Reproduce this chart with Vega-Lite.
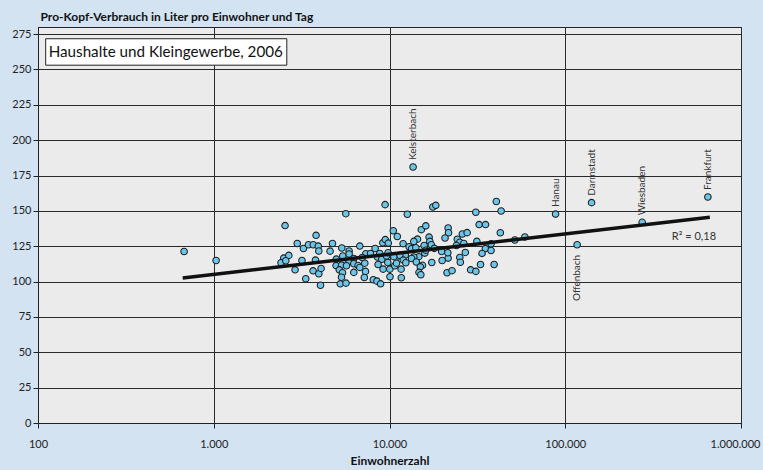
{
  "$schema": "https://vega.github.io/schema/vega-lite/v6.json",
  "width": 703,
  "height": 396,
  "autosize": {"type": "none"},
  "padding": {"left": 38, "top": 27, "right": 22, "bottom": 47},
  "background": "#d3e3f2",
  "config": {
    "font": "Lato",
    "view": {"fill": "#ebebeb", "stroke": "#222222", "strokeWidth": 1},
    "locale": {"number": {"decimal": ",", "thousands": ".", "grouping": [3], "currency": ["", " €"]}},
    "axis": {
      "gridColor": "#2a2a2a", "gridWidth": 1, "gridOpacity": 1,
      "domainColor": "#222222", "tickColor": "#222222", "tickSize": 5,
      "labelFont": "Lato", "labelFontSize": 11, "labelColor": "#222222",
      "titleFont": "Lato", "titleFontSize": 12, "titleFontWeight": "bold", "titleColor": "#111111",
      "labelOverlap": false
    }
  },
  "datasets": {
    "pts": [
      {"p":678,"v":121.3},{"p":1031,"v":114.9},{"p":2545,"v":139.6},{"p":5640,"v":148.0},{"p":9440,"v":154.4},
      {"p":13620,"v":181.0,"name":"Kelsterbach"},
      {"p":3821,"v":132.7},{"p":2987,"v":126.9},{"p":3239,"v":123.4},{"p":3459,"v":126.0},{"p":3684,"v":126.0},
      {"p":3934,"v":125.1},{"p":3960,"v":121.6},{"p":4738,"v":126.9},{"p":4591,"v":121.5},{"p":2502,"v":116.6},
      {"p":2673,"v":118.5},{"p":2415,"v":113.3},{"p":2569,"v":114.7},{"p":3177,"v":114.9},{"p":3791,"v":115.2},
      {"p":2902,"v":108.3},{"p":3674,"v":107.6},{"p":3960,"v":105.5},{"p":4081,"v":109.3},{"p":3338,"v":102.0},
      {"p":4049,"v":97.4},{"p":5352,"v":123.7},{"p":6776,"v":125.1},{"p":5890,"v":121.6},{"p":5423,"v":118.1},
      {"p":5890,"v":119.5},{"p":4979,"v":115.9},{"p":5444,"v":113.5},{"p":5890,"v":114.0},{"p":6263,"v":116.3},
      {"p":6263,"v":112.6},{"p":4966,"v":111.3},{"p":5332,"v":111.6},{"p":5692,"v":111.2},{"p":6627,"v":111.4},
      {"p":5180,"v":108.3},{"p":5402,"v":106.2},{"p":6263,"v":106.5},{"p":6776,"v":110.0},{"p":7235,"v":113.0},
      {"p":7331,"v":119.7},{"p":7797,"v":119.9},{"p":8280,"v":123.4},{"p":7302,"v":107.2},{"p":7189,"v":102.9},
      {"p":5332,"v":103.1},{"p":5248,"v":98.4},{"p":5655,"v":98.9},{"p":8087,"v":101.3},{"p":8489,"v":100.3},
      {"p":8899,"v":98.4},{"p":10065,"v":103.4},{"p":9159,"v":127.4},{"p":9465,"v":129.7},{"p":9845,"v":127.2},
      {"p":10510,"v":135.9},{"p":11075,"v":131.9},{"p":8544,"v":117.4},{"p":9040,"v":115.8},{"p":9614,"v":118.1},
      {"p":8611,"v":112.1},{"p":9195,"v":108.8},{"p":9779,"v":113.5},{"p":10039,"v":108.8},{"p":10720,"v":111.2},
      {"p":10960,"v":113.0},{"p":11190,"v":118.1},{"p":11673,"v":102.7},{"p":8807,"v":119.9},{"p":9817,"v":120.4},
      {"p":7000,"v":117.0},{"p":12628,"v":147.6},{"p":17640,"v":152.7},{"p":18344,"v":153.9},{"p":40545,"v":156.6},
      {"p":30983,"v":149.0},{"p":43169,"v":149.9},
      {"p":88080,"v":147.7,"name":"Hanau"},
      {"p":32359,"v":140.3},{"p":35188,"v":140.3},{"p":42714,"v":134.5},{"p":15171,"v":136.7},{"p":16091,"v":139.4},
      {"p":21555,"v":137.9},{"p":21670,"v":134.5},{"p":20700,"v":130.8},{"p":16802,"v":131.4},{"p":14433,"v":130.0},
      {"p":13748,"v":128.4},{"p":11951,"v":126.8},{"p":12931,"v":124.6},{"p":16957,"v":128.4},{"p":17292,"v":126.0},
      {"p":15736,"v":125.5},{"p":24316,"v":129.9},{"p":25968,"v":133.6},{"p":27651,"v":134.6},{"p":25124,"v":127.8},
      {"p":26482,"v":126.9},{"p":24060,"v":125.5},{"p":31400,"v":128.4},{"p":37820,"v":126.7},{"p":35100,"v":123.3},
      {"p":37820,"v":122.0},{"p":33615,"v":119.9},{"p":27006,"v":120.6},{"p":25124,"v":117.0},{"p":25292,"v":113.7},
      {"p":21555,"v":116.6},{"p":19800,"v":121.3},{"p":19928,"v":114.9},{"p":17404,"v":113.5},{"p":21470,"v":120.4},
      {"p":15881,"v":120.1},{"p":16091,"v":122.2},{"p":17989,"v":123.5},{"p":13358,"v":123.2},{"p":14115,"v":123.9},
      {"p":14683,"v":117.6},{"p":13748,"v":117.4},{"p":13358,"v":116.3},{"p":12300,"v":118.7},{"p":11445,"v":118.5},
      {"p":10580,"v":117.6},{"p":11982,"v":115.2},{"p":12382,"v":113.3},{"p":14207,"v":113.8},{"p":15410,"v":111.5},
      {"p":14972,"v":110.4},{"p":11641,"v":108.8},{"p":14720,"v":106.5},{"p":15074,"v":104.8},{"p":21250,"v":106.2},
      {"p":22690,"v":107.7},{"p":28948,"v":108.3},{"p":31000,"v":107.2},{"p":32955,"v":112.1},{"p":39380,"v":112.1},
      {"p":51660,"v":129.4},{"p":58900,"v":131.5},
      {"p":116870,"v":126.0,"name":"Offenbach"},
      {"p":141160,"v":155.8,"name":"Darmstadt"},
      {"p":273970,"v":141.9,"name":"Wiesbaden"},
      {"p":648000,"v":159.8,"name":"Frankfurt"}
    ],
    "trend": [
      {"p": 666, "v": 102.6},
      {"p": 665000, "v": 145.4}
    ]
  },
  "layer": [
    {
      "data": {"name": "pts"},
      "mark": {"type": "circle", "size": 42, "fill": "#6cc6ea", "fillOpacity": 1, "opacity": 1, "stroke": "#1f1f1f", "strokeWidth": 1.1},
      "encoding": {
        "x": {
          "field": "p", "type": "quantitative",
          "scale": {"type": "log", "domain": [100, 1000000]},
          "axis": {
            "values": [100, 1000, 10000, 100000, 1000000],
            "tickCount": 20,
            "format": ",",
            "grid": true,
            "labelFlush": false,
            "labelPadding": 10,
            "labelOffset": {"condition": {"test": "datum.value >= 1000000", "value": -6}, "value": 0},
            "title": "Einwohnerzahl",
            "titlePadding": 6
          }
        },
        "y": {
          "field": "v", "type": "quantitative",
          "scale": {"domain": [0, 275]},
          "axis": {
            "values": [0, 25, 50, 75, 100, 125, 150, 175, 200, 225, 250, 275],
            "tickCount": 20,
            "grid": true,
            "labelPadding": 2,
            "title": "Pro-Kopf-Verbrauch in Liter pro Einwohner und Tag",
            "titleAngle": 0,
            "titleAlign": "left",
            "titleBaseline": "alphabetic",
            "titleX": 2,
            "titleY": -7
          }
        }
      }
    },
    {
      "data": {"name": "trend"},
      "mark": {"type": "line", "color": "#111111", "strokeWidth": 3.5},
      "encoding": {
        "x": {"field": "p", "type": "quantitative"},
        "y": {"field": "v", "type": "quantitative"}
      }
    },
    {
      "data": {"values": [{}]},
      "mark": {"type": "rect", "fill": "#ffffff", "stroke": "#222222", "strokeWidth": 1},
      "encoding": {
        "x": {"datum": 110.6, "type": "quantitative"},
        "x2": {"datum": 2604},
        "y": {"datum": 271.7, "type": "quantitative"},
        "y2": {"datum": 253.0}
      }
    },
    {
      "data": {"values": [{"t": "Haushalte und Kleingewerbe, 2006"}]},
      "mark": {"type": "text", "align": "left", "baseline": "middle", "fontSize": 15.2, "font": "Lato", "color": "#111111"},
      "encoding": {
        "x": {"datum": 115, "type": "quantitative"},
        "y": {"datum": 262.4, "type": "quantitative"},
        "text": {"field": "t"}
      }
    },
    {
      "data": {"name": "pts"},
      "transform": [{"filter": "datum.name && datum.name != 'Offenbach'"}],
      "mark": {"type": "text", "angle": 270, "align": "left", "baseline": "middle", "dx": 7, "fontSize": 10, "font": "Lato", "color": "#333333"},
      "encoding": {
        "x": {"field": "p", "type": "quantitative"},
        "y": {"field": "v", "type": "quantitative"},
        "text": {"field": "name"}
      }
    },
    {
      "data": {"name": "pts"},
      "transform": [{"filter": "datum.name == 'Offenbach'"}],
      "mark": {"type": "text", "angle": 270, "align": "right", "baseline": "middle", "dx": -10, "fontSize": 10, "font": "Lato", "color": "#333333"},
      "encoding": {
        "x": {"field": "p", "type": "quantitative"},
        "y": {"field": "v", "type": "quantitative"},
        "text": {"field": "name"}
      }
    },
    {
      "data": {"values": [{"t": "R² = 0,18"}]},
      "mark": {"type": "text", "align": "left", "baseline": "middle", "fontSize": 11, "font": "Lato", "color": "#333333"},
      "encoding": {
        "x": {"datum": 404000, "type": "quantitative"},
        "y": {"datum": 131.5, "type": "quantitative"},
        "text": {"field": "t"}
      }
    }
  ]
}
